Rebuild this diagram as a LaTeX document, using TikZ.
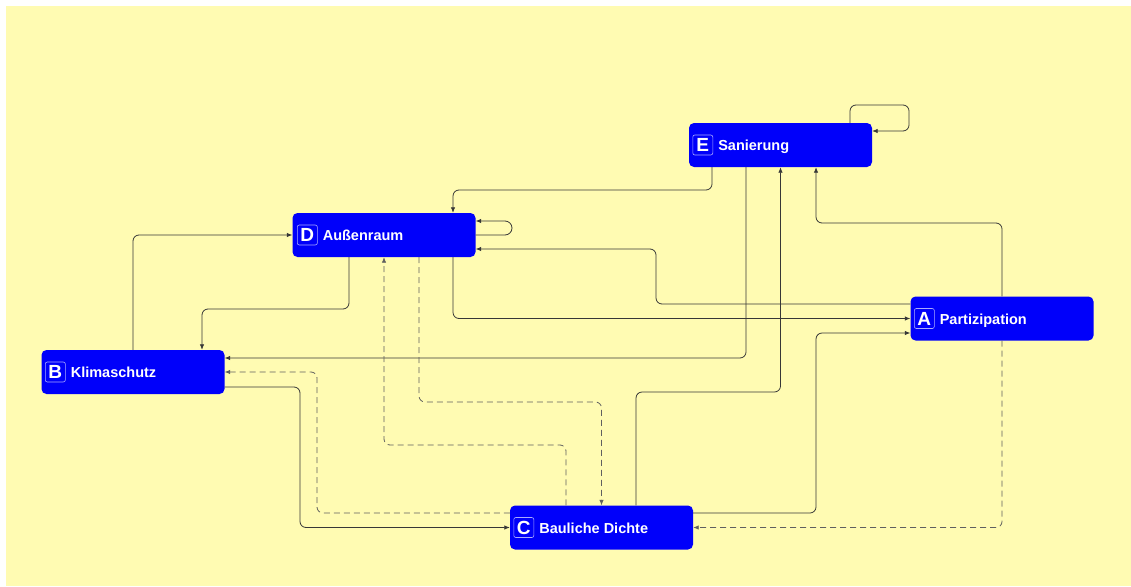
\documentclass[tikz,border=0pt]{standalone}
\usepackage{fontspec}
\setmainfont{Liberation Sans}
\usetikzlibrary{arrows.meta,calc}
\definecolor{bgyellow}{RGB}{255,251,178}
\definecolor{nodeblue}{RGB}{0,0,250}
\definecolor{badgeline}{RGB}{170,170,255}
\definecolor{linkgray}{RGB}{55,55,55}
\definecolor{dashgray}{RGB}{95,95,95}
\begin{document}
\begin{tikzpicture}[x=1pt,y=-1pt,
  box/.style={fill=nodeblue, rounded corners=5pt, minimum width=183pt, minimum height=44pt, inner sep=0pt},
  badge/.style={draw=badgeline, line width=0.6pt, rounded corners=2pt, minimum size=20pt, inner sep=0pt, text=white, font=\bfseries\fontsize{19}{19}\selectfont},
  lbl/.style={text=white, font=\bfseries\fontsize{14.5}{16}\selectfont, inner sep=0pt, anchor=base west},
  link/.style={draw=linkgray, line width=0.8pt, rounded corners=6pt, -{Latex[length=5.5pt,width=4.5pt]}},
  dlink/.style={link, draw=dashgray, dash pattern=on 6pt off 4pt}]
\fill[white] (0,0) rectangle (1131,586);
\fill[bgyellow] (6,6) rectangle (1131,586);
\useasboundingbox (0,0) rectangle (1131,586);

% nodes
\node[box] (E) at (780.5,145) {};
\node[badge] (Eb) at ($(E.west)+(14,0)$) {E};
\node[lbl] (El) at ($(Eb.east)+(5,5.5)$) {Sanierung};

\node[box] (D) at (384,235) {};
\node[badge] (Db) at ($(D.west)+(15,0)$) {D};
\node[lbl] (Dl) at ($(Db.east)+(5,5.5)$) {Außenraum};

\node[box] (B) at (133,372) {};
\node[badge] (Bb) at ($(B.west)+(14,0)$) {B};
\node[lbl] (Bl) at ($(Bb.east)+(5,5.5)$) {Klimaschutz};

\node[box] (C) at (601.5,527.5) {};
\node[badge] (Cb) at ($(C.west)+(14,0)$) {C};
\node[lbl] (Cl) at ($(Cb.east)+(5,5.5)$) {Bauliche Dichte};

\node[box] (A) at (1002,318.5) {};
\node[badge] (Ab) at ($(A.west)+(14,0)$) {A};
\node[lbl] (Al) at ($(Ab.east)+(5,5.5)$) {Partizipation};

% connectors
% E self loop
\draw[link] ($(E.north)+(69.5,0)$) -- (850,105) -- (909,105) -- (909,131) -- ($(E.east)+(0,-14)$);
% E -> D
\draw[link] ($(E.south)+(-68.5,0)$) -- (712,190) -- (453,190) -- ($(D.north)+(69,0)$);
% E -> B
\draw[link] ($(E.south)+(-34.5,0)$) -- (746,358) -- ($(B.east)+(0,-14)$);
% C -> E
\draw[link] ($(C.north)+(34.5,0)$) -- (636,392) -- (780.5,392) -- (E.south);
% A -> E
\draw[link] (A.north) -- (1002,223) -- (816,223) -- ($(E.south)+(35.5,0)$);
% A -> C (dashed)
\draw[dlink] (A.south) -- (1002,527.5) -- (C.east);
% A -> D
\draw[link] ($(A.west)+(0,-14.5)$) -- (656,304) -- (656,249) -- ($(D.east)+(0,14)$);
% D -> A
\draw[link] ($(D.south)+(69,0)$) -- (453,318.5) -- (A.west);
% C -> A
\draw[link] ($(C.east)+(0,-14.5)$) -- (816,513) -- (816,333) -- ($(A.west)+(0,14.5)$);
% D -> B
\draw[link] ($(D.south)+(-35,0)$) -- (349,309) -- (202,309) -- ($(B.north)+(69,0)$);
% B -> D
\draw[link] (B.north) -- (133,235) -- (D.west);
% D self loop
\draw[link, rounded corners=7pt] (D.east) -- (512,235) -- (512,221) -- ($(D.east)+(0,-14)$);
% B -> C
\draw[link] ($(B.east)+(0,15)$) -- (300,387) -- (300,527.5) -- (C.west);
% C -> B (dashed)
\draw[dlink] ($(C.west)+(0,-14.5)$) -- (317,513) -- (317,372) -- (B.east);
% D -> C (dashed)
\draw[dlink] ($(D.south)+(35,0)$) -- (419,402) -- (601.5,402) -- (C.north);
% C -> D (dashed)
\draw[dlink] ($(C.north)+(-35.5,0)$) -- (566,445) -- (384,445) -- (D.south);
\end{tikzpicture}
\end{document}
